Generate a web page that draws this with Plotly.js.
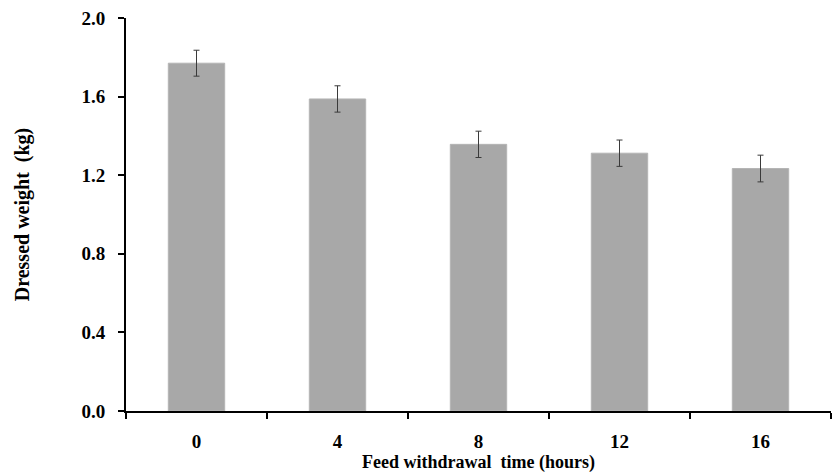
<!DOCTYPE html>
<html>
<head>
<meta charset="utf-8">
<script src="https://cdn.plot.ly/plotly-3.0.1.min.js"></script>
<style>html,body{margin:0;padding:0;background:#fff;}#chart{width:832px;height:473px;}</style>
</head>
<body>
<div id="chart"></div>
<script>
const categories = ["0", "4", "8", "12", "16"];
const dressedWeight = [1.77, 1.588, 1.357, 1.312, 1.234];
const errorValues = [0.066, 0.067, 0.067, 0.067, 0.068];
const yTickValues = [0, 0.4, 0.8, 1.2, 1.6, 2.0];

const fontFamily = "'Liberation Serif', 'Times New Roman', serif";

const trace = {
  type: "bar",
  x: categories,
  y: dressedWeight,
  width: 0.4,
  marker: {color: "#a8a8a8", line: {color: "#b4b4b4", width: 1}},
  error_y: {type: "data", array: errorValues, visible: true, color: "#3a3a3a", thickness: 1, width: 3},
  hoverinfo: "none"
};

const layout = {
  width: 832, height: 473,
  margin: {l: 126, r: 1, t: 18, b: 62},
  paper_bgcolor: "#ffffff", plot_bgcolor: "#ffffff",
  showlegend: false,
  font: {family: fontFamily, color: "#000", weight: "bold"},
  xaxis: {
    type: "category",
    range: [-0.5, 4.5],
    showline: true, linecolor: "#000", linewidth: 2,
    ticks: "outside", tickson: "boundaries", ticklen: 6, tickwidth: 2, tickcolor: "#000",
    ticklabelstandoff: 12,
    showgrid: false, zeroline: false,
    tickfont: {family: fontFamily, size: 19, color: "#000", weight: "bold"},
    title: {text: "Feed withdrawal  time (hours)", font: {family: fontFamily, size: 18, color: "#000", weight: "bold"}, standoff: 2}
  },
  yaxis: {
    range: [0, 2.0],
    tickvals: yTickValues,
    tickformat: ".1f",
    showline: true, linecolor: "#000", linewidth: 2,
    ticks: "outside", ticklen: 6, tickwidth: 2, tickcolor: "#000",
    ticklabelstandoff: 9,
    showgrid: false, zeroline: false,
    tickfont: {family: fontFamily, size: 19, color: "#000", weight: "bold"},
    title: {text: "Dressed weight  (kg)", font: {family: fontFamily, size: 20, color: "#000", weight: "bold"}, standoff: 46}
  }
};

Plotly.newPlot("chart", [trace], layout, {displayModeBar: false, staticPlot: true});
</script>
</body>
</html>
